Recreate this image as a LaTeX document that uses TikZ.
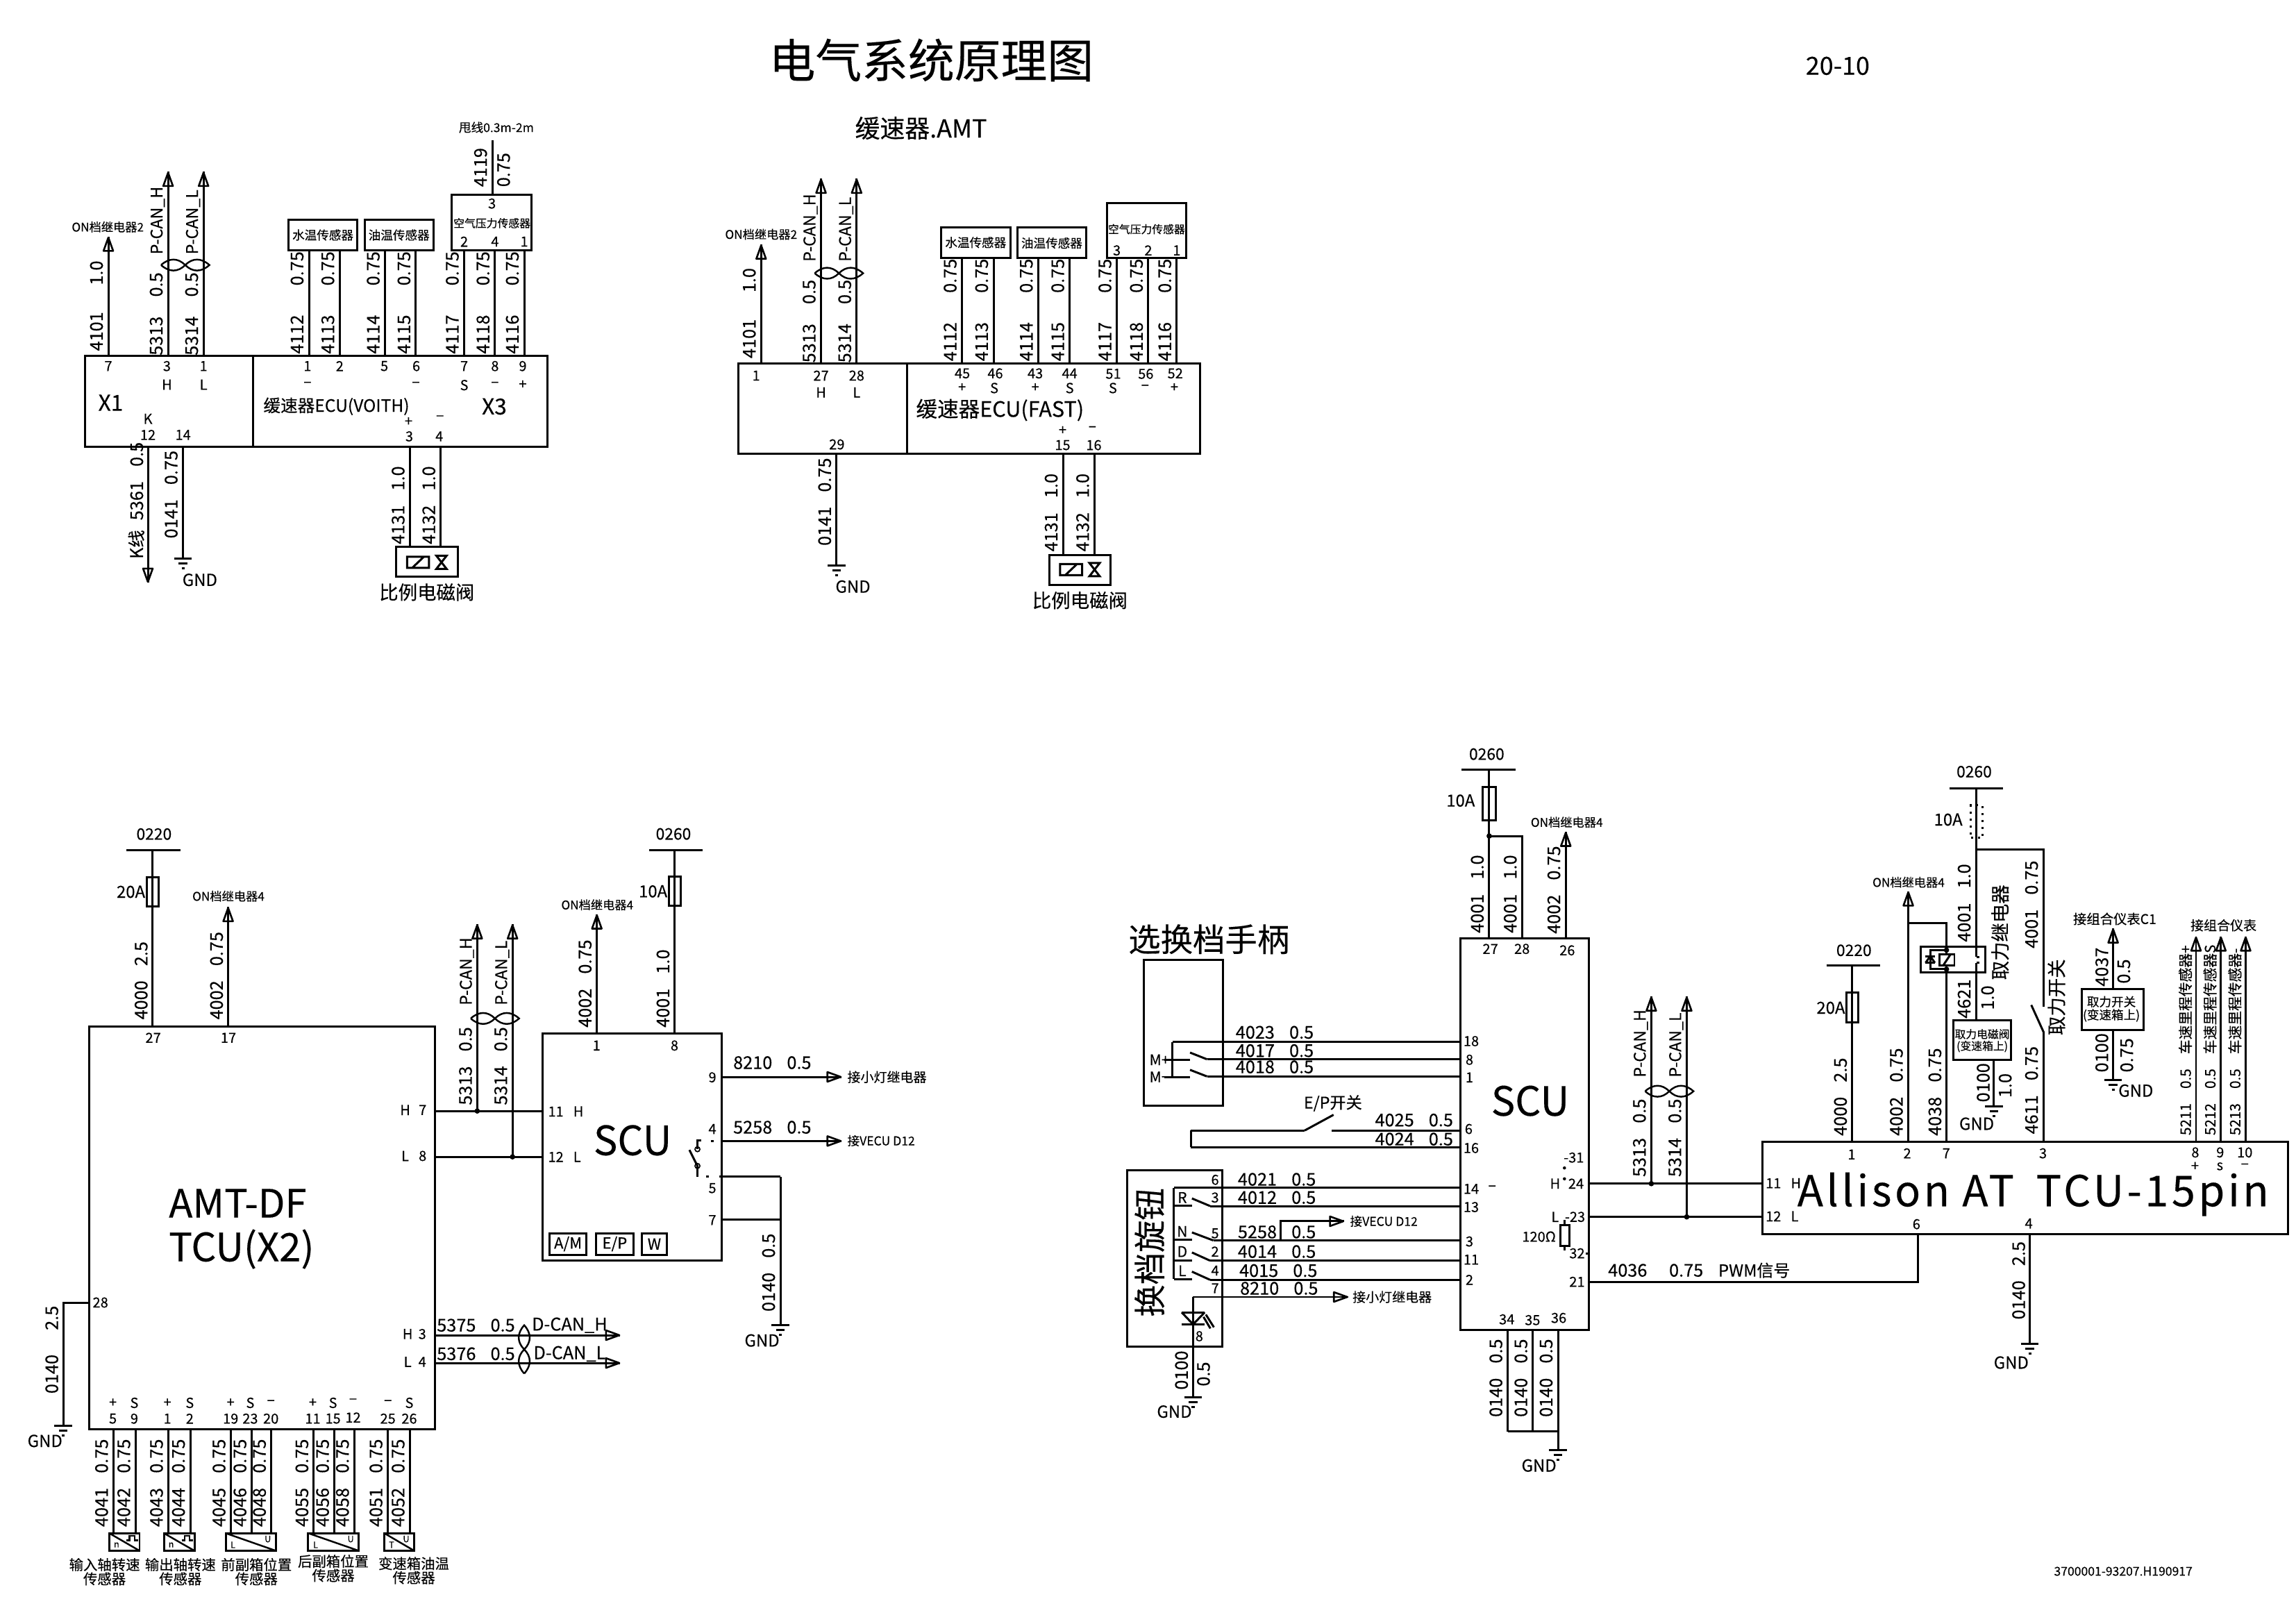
\documentclass[tikz,border=0pt]{standalone}
\usepackage{fontspec}
\usetikzlibrary{arrows.meta, positioning, calc, fit}
\setmainfont{Noto Sans CJK SC}[FakeBold=0.25]
\newfontfamily\allisonfont{Noto Sans CJK SC}[LetterSpace=7.5, FakeBold=0.25]
\newcommand{\gp}{\hspace{12pt}}
\newcommand{\gq}{\hspace{6pt}}
\newcommand{\wire}[4][wire]{\coordinate (#2a) at (#3); \coordinate (#2b) at (#4); \draw[#1] (#2a) -- (#2b);}
\newcommand{\textrow}[3]{\foreach \t/\x/\y [count=\i] in {#3} {\node[#1] (#2\i) at (\x,\y) {\t};}}

\begin{document}
\begin{tikzpicture}[
    x=0.02109cm, y=-0.02109cm,
    wire/.style={line width=0.85pt},
    arrowwire/.style={line width=0.85pt, postaction={draw, line width=0.75pt, -{Triangle[open, round, length=7pt, width=4.8pt]}}},
    box/.style={draw, rectangle, inner sep=0pt, outer sep=0pt, line width=0.85pt},
    txt/.style={font=\fontsize{#1}{#1}\selectfont, inner sep=0pt},
    pinlbl/.style={txt=5.7},
    hl/.style={txt=7.2},
    wl/.style={txt=7.2, rotate=90, anchor=south west, text depth=0pt},
    wls/.style={txt=6.6, rotate=90, anchor=south west, text depth=0pt},
    wlt/.style={txt=5.9, rotate=90, anchor=south west, text depth=0pt},
    dot/.style={circle, fill=black, inner sep=0pt, minimum size=2.2pt},
    gnd/.pic={\draw[wire] (-6,0) -- (6,0) (-3,3.3) -- (3,3.3) (-1,6.6) -- (1,6.6);},
    twist/.pic={\draw[line width=0.7pt] (-16.5,0) .. controls (-11,-5) and (-5,-5) .. (0,0) .. controls (5,5) and (11,5) .. (16.5,0) .. controls (11,-5) and (5,-5) .. (0,0) .. controls (-5,5) and (-11,5) .. (-16.5,0);},
    valve/.pic={\draw[wire] (-13.5,-3.8) rectangle (1.5,3.8) (-10,3.8) -- (-2,-3.8) (6.5,-4.5) -- (13.5,-4.5) -- (6.5,4.5) -- (13.5,4.5) -- cycle;},
    wave/.pic={\draw[line width=0.7pt] (-4,1.6) -- (-2,1.6) -- (-2,-1.6) -- (1.5,-1.6) -- (1.5,1.6) -- (4,1.6);}
]
\useasboundingbox (0,0) rectangle (1568,1109);

% Titles
\node[txt=19] (title) at (636,41) {电气系统原理图};
\node[txt=10.2] (sheet) at (1255,45) {20-10};
\node[txt=10.2] (amttitle) at (629,87.5) {缓速器.AMT};
\node[txt=5] (drawno) at (1450,1073) {3700001-93207.H190917};

% Retarder ECU (VOITH)
\node[box, fit={(58,243)(173,305)}] (xone) {};
\node[box, fit={(173,243)(374,305)}] (voith) {};
\node[txt=9, anchor=center] (xonetxt) at (75.6,275) {X1};
\node[txt=7, anchor=west] (voithtxt) at (179.6,277.5) {缓速器ECU(VOITH)};
\node[txt=9] (xthree) at (337.6,277.6) {X3};
\wire[arrowwire]{va}{74,243}{74,161.6}
\wire[arrowwire]{vb}{114.8,243}{114.8,117.3}
\wire[arrowwire]{vc}{139,243}{139,117.3}
\pic at (126.5,181) {twist};
\node[txt=4.9] (von) at (73.6,155) {ON档继电器2};
\foreach \n/\x/\t in {4112/211/171, 4113/232/171, 4114/263/171, 4115/284/171, 4117/317/171, 4118/338/171, 4116/358/171} {
    \wire{v\n}{\x,243}{\x,\t}
    \node[wl] (vl\n) at (\x-3.5,242) {\n\gp 0.75};
}
\wire{vtop}{336.3,133}{336.3,96}
\node[box, fit={(197,150)(244,171)}] (vwater) {};
\node[box, fit={(249,150)(296,171)}] (voil) {};
\node[box, fit={(308.5,133)(363,171)}] (vair) {};
\node[txt=5] (vwatertxt) at (220.5,160.5) {水温传感器};
\node[txt=5] (voiltxt) at (272.5,160.5) {油温传感器};
\node[txt=4.5] (vairtxt) at (336,152.4) {空气压力传感器};
\node[txt=5] (vswing) at (339,87) {甩线0.3m-2m};
\textrow{pinlbl}{vq}{3/336/139, 2/317/165, 4/338/165, 1/358/165}
\textrow{wl}{vw}{{4101\hspace{11pt}1.0}/70.5/240, {5313\hspace{8pt}0.5}/111.3/243, {5314\hspace{8pt}0.5}/135.5/243, 4119/332.8/128, 0.75/348.5/128, {K线\hspace{4pt}5361\hspace{6pt}0.5}/98/382, {0141\gq 0.75}/121.5/368, {4131\gq 1.0}/276.5/372, {4132\gq 1.0}/297.5/372}
\textrow{wls}{vc}{P-CAN\_H/111.3/174, P-CAN\_L/135.5/174}
\textrow{pinlbl}{vp}{7/74/250, 3/114/250, 1/139/250, H/114/262.7, L/139/262.7, 1/210/250, 2/232/250, 5/262.5/250, 6/284.3/250, 7/317/250, 8/338/250, 9/357/250, −/210/262.7, −/284/262.7, S/317/263, −/338/262.7, +/357/262.7, K/101/286, 12/101/297, 14/125/297, +/279/288, −/300.5/285.6, 3/279.5/298, 4/300/298}
\wire[arrowwire]{vk}{101,305}{101,398}
\wire{vg}{125,305}{125,381.4}
\pic at (vgb) {gnd};
\node[txt=6.8] (vgnd) at (136.5,396) {GND};
\wire{vs}{280,305}{280,373.6}
\wire{vt}{301,305}{301,373.6}
\node[box, fit={(270.3,373.6)(312.6,394)}] (vvalve) {};
\pic at (291.5,384) {valve};
\node[txt=7.8] (vvalvetxt) at (291.5,404.4) {比例电磁阀};

% Retarder ECU (FAST)
\node[box, fit={(504.4,248)(619.5,310)}] (fleft) {};
\node[box, fit={(619.5,248)(819.5,310)}] (fast) {};
\node[txt=8.7, anchor=west] (fasttxt) at (625.3,280) {缓速器ECU(FAST)};
\wire[arrowwire]{fa}{519.8,248}{519.8,167}
\wire[arrowwire]{fb}{560.7,248}{560.7,122}
\wire[arrowwire]{fc}{585,248}{585,122}
\pic at (572.9,186.6) {twist};
\node[txt=4.9] (fon) at (519.8,160) {ON档继电器2};
\foreach \n/\x in {4112/657, 4113/678.5, 4114/709, 4115/730.5, 4117/762.7, 4118/784.2, 4116/803.6} {
    \wire{f\n}{\x,248}{\x,176.3}
    \node[wl] (fl\n) at (\x-3.5,247) {\n\gp 0.75};
}
\node[box, fit={(642.7,155.4)(689.9,176.3)}] (fwater) {};
\node[box, fit={(694.7,155.4)(742,176.3)}] (foil) {};
\node[box, fit={(755.9,138.9)(810.3,176.3)}] (fair) {};
\node[txt=5] (fwatertxt) at (666.3,165.6) {水温传感器};
\node[txt=5] (foiltxt) at (718.3,166) {油温传感器};
\node[txt=4.5] (fairtxt) at (783,156.5) {空气压力传感器};
\textrow{pinlbl}{fq}{3/762.7/171, 2/784.2/171, 1/803.6/171}
\textrow{wl}{fw}{{4101\hspace{11pt}1.0}/516.3/245, {5313\hspace{8pt}0.5}/557.2/248, {5314\hspace{8pt}0.5}/581.5/248, {0141\gq 0.75}/567.8/373, {4131\gq 1.0}/722.5/377, {4132\gq 1.0}/744/377}
\textrow{wls}{fc}{P-CAN\_H/557.2/179, P-CAN\_L/581.5/179}
\textrow{pinlbl}{fp}{1/516.4/256.5, 27/560.7/256.5, 28/585/256.5, H/560.7/268, L/585/268, 45/657.2/255, 46/679.7/255, 43/707/255, 44/730.5/255, 51/760.3/255.3, 56/782.5/255.3, 52/802.6/255, +/657/264.7, S/679/265, +/707/264.7, S/730.5/265, S/760/265, −/782/264.7, +/802/264.7, +/725.7/294, −/746/293, 15/725.7/304, 16/747/304, 29/571.5/303.5}
\wire{fg}{571.3,310}{571.3,386}
\pic at (fgb) {gnd};
\node[txt=6.8] (fgnd) at (582.5,400.6) {GND};
\wire{fs}{726,310}{726,378.9}
\wire{ft}{747.5,310}{747.5,378.9}
\node[box, fit={(716.5,379)(758.6,399.6)}] (fvalve) {};
\pic at (737.5,389) {valve};
\node[txt=7.8] (fvalvetxt) at (737.5,410) {比例电磁阀};

% AMT-DF TCU
\node[box, fit={(61,701)(297,976)}] (tcu) {};
\node[txt=16, anchor=west] (tcuone) at (115,821.7) {AMT-DF};
\node[txt=16, anchor=west] (tcutwo) at (115,853) {TCU(X2)};
\wire{tbus}{86.2,580.4}{123.2,580.4}
\wire{tfeed}{104.2,701}{104.2,580.4}
\node[box, fit={(100.4,599)(108.4,619)}] (tfuse) {};
\node[txt=6.5] (tbustxt) at (105.2,569.6) {0220};
\node[txt=6.8] (tfusetxt) at (89.4,609) {20A};
\wire[arrowwire]{ton}{155.8,701}{155.8,619.4}
\node[txt=4.9] (tontxt) at (156,612) {ON档继电器4};
\coordinate (tgnda) at (61,889.6);
\coordinate (tgndb) at (43.2,973.7);
\draw[wire] (tgnda) -| (tgndb);
\pic at (tgndb) {gnd};
\node[txt=6.8] (tgnd) at (30.7,984) {GND};
\textrow{wl}{tw}{{4000\gq 2.5}/101/696.6, {4002\gq 0.75}/152.5/696.6, {0140\hspace{10pt}2.5}/40/952}
\textrow{pinlbl}{tp}{27/104.6/708.7, 17/156/708.7, 28/68.6/889.5, H/276.7/758, 7/288.6/758, L/276.7/789.4, 8/288.6/789.4, H/278.4/911, 3/288.4/911, L/278.4/930, 4/288.4/930}
\textrow{pinlbl}{ts}{+/77.1/958, S/91.7/958, +/114.3/958, S/129.6/958, +/157.5/958, S/170.9/958, −/185/958, +/213.6/958, S/227.4/958, −/241.1/957, −/264.9/958, S/279.5/958}
\textrow{pinlbl}{tn}{5/77.1/968.8, 9/91.7/968.8, 1/114.3/968.8, 2/129.6/968.8, 19/157.5/968.8, 23/170.9/968.8, 20/185/968.8, 11/213.6/968.8, 15/227.4/968.8, 12/241.1/968, 25/264.9/968.8, 26/279.5/968.8}
\foreach \n/\x in {4041/77.5, 4042/92.7, 4043/115, 4044/130, 4045/157.7, 4046/172, 4048/185.3, 4055/214.3, 4056/228.4, 4058/242, 4051/264.9, 4052/280} {
    \wire{t\n}{\x,976}{\x,1047}
    \node[wl] (tl\n) at (\x-3.5,1043) {\n\gq 0.75};
}
\foreach \n/\l/\r/\a/\b in {1/74.6/95.3/n/, 2/111.9/132.8/n/, 3/154.1/188.4/L/U, 4/210.5/245/L/U, 5/262.4/282.9/T/U} {
    \node[box, fit={(\l,1047)(\r,1059)}] (sens\n) {};
    \draw[line width=0.7pt] (sens\n.north west) -- (sens\n.south east);
    \node[txt=3.6] (sensa\n) at (\l+5,1055) {\a};
    \node[txt=3.6] (sensb\n) at (\r-5.5,1051) {\b};
}
\pic at (90.4,1050.3) {wave};
\pic at (128,1050.3) {wave};
\foreach \n/\x/\y/\s in {1/71.4/1073.3/输入轴转速, 2/123.2/1073.3/输出轴转速, 3/175.1/1073.3/前副箱位置, 4/227.6/1071/后副箱位置, 5/282.6/1072.5/变速箱油温} {
    \node[txt=5.8, align=center] (senstxt\n) at (\x,\y) {\s\\传感器};
}

% SCU of the AMT
\node[box, fit={(370.4,705.7)(493,861)}] (scua) {};
\node[txt=16.5] (scuatxt) at (432,778.7) {SCU};
\wire{abus}{443.4,580.4}{479.7,580.4}
\wire{afeed}{460.8,705.7}{460.8,580.4}
\node[box, fit={(457,598.5)(465,618.6)}] (afuse) {};
\node[txt=6.5] (abustxt) at (459.9,569.5) {0260};
\node[txt=6.8] (afusetxt) at (446,608.7) {10A};
\wire[arrowwire]{aon}{407.6,705.7}{407.6,624.4}
\node[txt=4.9] (aontxt) at (407.9,617.9) {ON档继电器4};
\wire{ah}{297,758.7}{370.4,758.7}
\wire{al}{297,790}{370.4,790}
\wire[arrowwire]{acanh}{325.9,758.7}{325.9,631.2}
\wire[arrowwire]{acanl}{350,790}{350,631.2}
\node[dot] (adoth) at (325.9,758.7) {};
\node[dot] (adotl) at (350,790) {};
\pic at (338,695.5) {twist};
\textrow{wl}{aw}{{4002\gq 0.75}/404.2/702, {4001\gq 1.0}/457.4/702, {5313\gq 0.5}/322.5/755, {5314\gq 0.5}/346.6/755, {0140\gq 0.5}/529.5/896}
\textrow{wls}{ac}{P-CAN\_H/322.5/686.8, P-CAN\_L/346.6/686.8}
\textrow{pinlbl}{ap}{1/407.4/714, 8/460.6/714, 9/486.5/735.7, 4/486.5/771, 5/486.5/811.4, 7/486.5/833.2}
\node[pinlbl, anchor=west] (aph) at (374,759) {11\hspace{4pt}H};
\node[pinlbl, anchor=west] (apl) at (374,790) {12\hspace{4pt}L};
\wire[arrowwire]{alamp}{493,735.4}{574.8,735.4}
\wire[arrowwire]{avecu}{493,779.2}{574.8,779.2}
\textrow{hl}{ah}{{8210\gq 0.5}/527.4/725.7, {5258\gq 0.5}/527.4/769.8}
\node[txt=5.4, anchor=west] (alamptxt) at (578.4,735.5) {接小灯继电器};
\node[txt=5, anchor=west] (avecutxt) at (578.4,779) {接VECU D12};
\wire{aswa}{491.3,803.6}{533,803.6}
\wire{aswb}{493,832.7}{533,832.7}
\wire{aswc}{533,803.6}{533,905}
\pic at (aswcb) {gnd};
\node[txt=6.8] (agnd) at (520.4,915.4) {GND};
\wire{afixa}{485.5,779.2}{487.5,779.2}
\wire{afixb}{482.3,803.6}{484.3,803.6}
\wire{abl}{476.3,796.2}{470.8,785.3}
\wire{abm}{476.3,796.2}{476.3,803.6}
\coordinate (acona) at (476.3,784.8);
\coordinate (aconb) at (476.3,779);
\coordinate (aconc) at (478.8,779);
\draw[wire] (acona) -- (aconb) -- (aconc);
\node[draw, circle, inner sep=0pt, minimum size=2pt, line width=0.5pt] (acircb) at (476.3,796.2) {};
\node[draw, circle, inner sep=0pt, minimum size=2pt, line width=0.5pt] (acirca) at (476.3,784.8) {};
\node[box, fit={(375.2,842.1)(400.6,856.9)}] (btnam) {};
\node[box, fit={(407.1,842.1)(432.5,856.9)}] (btnep) {};
\node[box, fit={(438.4,842.1)(455.3,856.9)}] (btnw) {};
\node[txt=6.3] (btnamtxt) at (btnam) {A/M};
\node[txt=6.3] (btneptxt) at (btnep) {E/P};
\node[txt=6.3] (btnwtxt) at (btnw) {W};
\wire[arrowwire]{dh}{297,911.8}{423.6,911.8}
\wire[arrowwire]{dl}{297,930.8}{423.6,930.8}
\pic[rotate=90] at (358,921.5) {twist};
\textrow{hl}{dw}{{5375\gq 0.5}/325/905, {5376\gq 0.5}/325/924.5, D-CAN\_H/389/905, D-CAN\_L/389/924.5}

% Gear lever and rotary knob
\node[txt=13.2] (levertxt) at (825.6,641.4) {选换档手柄};
\node[box, fit={(781.1,655.4)(835.3,755)}] (lever) {};
\wire{w4023}{800.6,711.6}{997.5,711.6}
\wire{w4017}{824.3,723.4}{997.5,723.4}
\wire{w4018}{824.3,735.1}{997.5,735.1}
\wire{lbus}{800.6,711.6}{800.6,735.4}
\wire{lmp}{795,723.7}{812.7,723.7}
\wire{lmm}{795,735.4}{812.7,735.4}
\wire{lbp}{812.7,718.8}{824.3,723.4}
\wire{lbm}{812.7,730.6}{824.3,735.1}
\node[txt=6, anchor=east] (lmptxt) at (799,723.7) {M+};
\node[txt=6, anchor=east] (lmmtxt) at (799,735.4) {M−};
\node[txt=6.6] (eptxt) at (910.3,753.4) {E/P开关};
\wire{epa}{813.3,772}{891,772}
\wire{epb}{891,772}{910.7,761.3}
\wire{epc}{909.4,772}{997.5,772}
\wire{epd}{813.3,783.5}{997.5,783.5}
\wire{epe}{813.3,772}{813.3,783.5}
\node[box, fit={(769.7,799.2)(834.9,919.7)}] (knob) {};
\node[txt=13.2, rotate=90] (knobtxt) at (785,855.3) {换档旋钮};
\wire{w4021}{801.7,811.2}{997.5,811.2}
\wire{kbus}{801.7,811.2}{801.7,873.3}
\foreach \n/\ya/\yb/\l/\xb in {R/818.4/823.6/R/826.4, N/841.6/847.1/N/828.6, D/855.3/860.9/D/826.4, L/868.4/874/L/826.4} {
    \wire{kt\n}{801.7,\yb-0.3}{814,\yb-0.3}
    \wire{kb\n}{814,\ya}{\xb,\yb}
    \wire{kw\n}{\xb,\yb}{997.5,\yb}
    \node[txt=6] (kl\n) at (807.4,\ya-0.6) {\l};
}
\coordinate (kva) at (874.5,847.1);
\coordinate (kvb) at (918,834);
\draw[arrowwire] (kva) |- (kvb);
\node[txt=5, anchor=west] (kvtxt) at (921.7,834) {接VECU D12};
\wire[arrowwire]{klamp}{814.8,885.7}{920.7,885.7}
\node[txt=5.4, anchor=west] (klamptxt) at (923.4,885.7) {接小灯继电器};
\wire{kgnd}{814.8,885.7}{814.8,954.3}
\pic at (kgndb) {gnd};
\node[txt=6.8] (kgndtxt) at (802,964) {GND};
\wire{ledt}{807,896.2}{822.7,896.2}
\wire{ledb}{807,904.4}{822.7,904.4}
\wire{ledl}{807,896.2}{814.8,904.4}
\wire{ledr}{822.7,896.2}{814.8,904.4}
\wire{leda}{823.5,897.7}{829,906.4}
\wire{ledc}{821.9,899.3}{826.6,907.2}
\textrow{hl}{kh}{{4023\gq 0.5}/870.5/705, {4017\gq 0.5}/870.5/717.5, {4018\gq 0.5}/870.5/728.6, {4025\gq 0.5}/965.7/764.9, {4024\gq 0.5}/965.7/777.9, {4021\gq 0.5}/872/805.4, {4012\gq 0.5}/872/817.8, {5258\gq 0.5}/872/841.3, {4014\gq 0.5}/872/854.7, {4015\gq 0.5}/873/867.7, {8210\gq 0.5}/873.5/879.8}
\textrow{pinlbl}{kp}{6/829.8/805.7, 3/829.8/817.8, 5/829.8/842.3, 2/829.8/854.7, 4/829.8/867.7, 7/829.8/879.8, 8/819/912.5}
\textrow{wl}{kw}{0100/811.5/949.4, 0.5/826.5/947}

% SCU of the Allison gearbox
\node[box, fit={(997.5,640.8)(1085,908.2)}] (scub) {};
\node[txt=16.5] (scubtxt) at (1045,751.8) {SCU};
\wire{bbus}{998.3,525.8}{1035,525.8}
\wire{bfeed}{1017,640.8}{1017,525.8}
\node[box, fit={(1012.5,537.5)(1021.4,560)}] (bfuse) {};
\node[txt=6.5] (bbustxt) at (1015.3,515) {0260};
\node[txt=6.8] (bfusetxt) at (997.5,546.7) {10A};
\node[dot] (bdot) at (1017,570.9) {};
\coordinate (bbra) at (1017,570.9);
\coordinate (bbrb) at (1039.4,640.8);
\draw[wire] (bbra) -| (bbrb);
\wire[arrowwire]{bon}{1069.3,640.8}{1069.3,568}
\node[txt=4.9] (bontxt) at (1070,561.5) {ON档继电器4};
\textrow{wl}{bw}{{4001\gq 1.0}/1013.5/637.5, {4001\gq 1.0}/1036/637.5, {4002\gq 0.75}/1065.8/638, {5313\gq 0.5}/1124.2/804, {5314\gq 0.5}/1148.4/804, {0140\gq 0.5}/1026.2/968, {0140\gq 0.5}/1043.3/968, {0140\gq 0.5}/1060.5/968}
\textrow{wls}{bc}{P-CAN\_H/1124.2/736, P-CAN\_L/1148.4/736}
\textrow{pinlbl}{bp}{27/1017.8/648, 28/1039.4/648, 26/1070.3/649, 18/1004.7/711, 8/1003.5/723.7, 1/1003.5/735.8, 6/1003/771, 16/1004.7/784, 14/1004.7/811.9, 13/1004.7/824.3, 3/1003.5/847.8, 11/1004.7/860.2, 2/1003.5/874, −/1019/811.5, -31/1074.8/790.5, H/1062/808.3, 24/1076.3/808.3, L/1062/831, -23/1075.6/831, 32/1077/855.9, 21/1077/875.3, 34/1029/901, 35/1046.6/901.5, 36/1064.5/900}
\node[dot, minimum size=1.3pt] (bdota) at (1068.4,797.6) {};
\node[dot, minimum size=1.3pt] (bdotb) at (1068.4,805) {};
\wire{btick}{1083,855.9}{1085,855.9}
\wire{rstub}{1068.6,833}{1068.6,854}
\node[box, fill=white, fit={(1065.6,836.8)(1071.6,851)}] (rbox) {};
\node[txt=5.7] (rtxt) at (1051,844.5) {120Ω};
\wire{bh}{1085,808.3}{1203.6,808.3}
\wire{bl}{1085,831}{1203.6,831}
\wire[arrowwire]{bcanh}{1127.7,808.3}{1127.7,680.5}
\wire[arrowwire]{bcanl}{1151.9,831}{1151.9,680.5}
\node[dot] (bdoth) at (1127.7,808.3) {};
\node[dot] (bdotl) at (1151.9,831) {};
\pic at (1140,745.2) {twist};
\foreach \n/\x in {a/1029.7, b/1046.8, c/1064} {
    \wire{bg\n}{\x,908.2}{\x,977.5}
}
\draw[wire] (bgab) -- (bgcb);
\wire{bgnd}{1064,977.5}{1064,990.4}
\pic at (bgndb) {gnd};
\node[txt=6.8] (bgndtxt) at (1051,1000.8) {GND};
\coordinate (bpwma) at (1085,875.3);
\coordinate (bpwmb) at (1309.8,842.8);
\draw[wire] (bpwma) -| (bpwmb);
\node[hl] (bpwmtxt) at (1130.7,867.5) {4036\hspace{9pt}0.75};
\node[txt=6.8] (bpwmsig) at (1198,867.5) {PWM信号};

% Allison TCU
\node[box, fit={(1203.6,779.7)(1562.4,842.8)}] (allison) {};
\node[txt=17.4] (allisontxt) at (1388.4,815.5) {\allisonfont Allison AT\hspace{9pt}TCU-15pin};
\textrow{pinlbl}{cp}{1/1264.5/788.4, 2/1302.5/787.6, 7/1329.1/787.6, 3/1395.2/787.6, 8/1499.2/787, 9/1516.2/787, 10/1533/787, +/1499/796.5, s/1516/796.5, −/1533/796.5, 6/1308.8/836, 4/1385.5/835.5}
\node[pinlbl, anchor=west] (cph) at (1205.5,808) {11\hspace{4pt}H};
\node[pinlbl, anchor=west] (cpl) at (1205.5,830.6) {12\hspace{4pt}L};
\wire{cbusa}{1247.3,659.4}{1284,659.4}
\wire{cfeeda}{1265,779.7}{1265,659.4}
\node[box, fit={(1261,677.6)(1269.2,698)}] (cfusea) {};
\node[txt=6.5] (cbusatxt) at (1266.1,649) {0220};
\node[txt=6.8] (cfuseatxt) at (1250.3,688.2) {20A};
\wire[arrowwire]{con}{1303.2,779.7}{1303.2,608.7}
\node[txt=4.9] (contxt) at (1303.4,602.5) {ON档继电器4};
\coordinate (ccoila) at (1303.2,630.2);
\coordinate (ccoilb) at (1329.3,779.7);
\draw[wire] (ccoila) -| (ccoilb);
\node[box, fit={(1311.9,646.3)(1355.6,664.2)}] (crelay) {};
\node[box, fill=white, fit={(1324.5,651.5)(1334.7,659.4)}] (ccoil) {};
\coordinate (ccoild) at ($(ccoil.south west)+(2.5,0)$);
\coordinate (ccoile) at ($(ccoil.north east)+(-2.5,0)$);
\draw[wire] (ccoild) -- (ccoile);
\coordinate (cloopa) at (1329.3,648.8);
\coordinate (cloopb) at (1318.2,661.9);
\coordinate (cloopc) at (1329.3,661.9);
\draw[wire] (cloopa) -| (cloopb) -- (cloopc);
\node[dot] (cloopdota) at (cloopa) {};
\node[dot] (cloopdotb) at (cloopc) {};
\wire{cdiodea}{1315,653}{1321.4,653}
\wire{cdiodeb}{1315,657.5}{1321.4,657.5}
\wire{cdiodec}{1318.2,653}{1315,657.5}
\wire{cdioded}{1318.2,653}{1321.4,657.5}
\wire{cbusb}{1331.2,538.2}{1367.8,538.2}
\node[txt=6.5] (cbusbtxt) at (1348.2,527) {0260};
\node[txt=6.8] (cfusebtxt) at (1330.5,559.7) {10A};
\node[draw, dotted, rectangle, line width=0.85pt, inner sep=0pt, fit={(1345.9,550)(1354.1,572)}] (cfuseb) {};
\wire{cfeedb}{1349.7,538.2}{1349.7,653.5}
\wire{cfixa}{1349.7,653.5}{1352,653.5}
\wire{cfixb}{1352,657.5}{1349.7,657.5}
\wire{cfeedc}{1349.7,657.5}{1349.7,696.7}
\node[box, fit={(1334.1,696.7)(1373.2,723.9)}] (cmag) {};
\node[txt=4.5] (cmagtxta) at (1353.7,706.2) {取力电磁阀};
\node[txt=4.5] (cmagtxtb) at (1353.7,714.6) {(变速箱上)};
\wire{cmagg}{1361.7,723.9}{1361.7,755.7}
\pic at (cmaggb) {gnd};
\node[txt=6.8] (cmagnd) at (1349.9,767.4) {GND};
\coordinate (cptoa) at (1349.7,580.2);
\coordinate (cptob) at (1395.6,687.7);
\draw[wire] (cptoa) -| (cptob);
\wire{cptoc}{1387.2,686.3}{1395.6,704.8}
\wire{cptod}{1395.6,704.8}{1395.6,779.7}
\node[txt=7.8, rotate=90] (crelaytxt) at (1365.9,636.7) {取力继电器};
\node[txt=7.8, rotate=90] (cptotxt) at (1404.4,681) {取力开关};
\node[box, fit={(1421.6,675.4)(1463.8,703.5)}] (cswitch) {};
\node[txt=5] (cswitchtxta) at (1441.9,684.1) {取力开关};
\node[txt=5] (cswitchtxtb) at (1441.9,693.4) {(变速箱上)};
\wire[arrowwire]{cmeter}{1443.1,675.4}{1443.1,634}
\node[txt=5.5] (cmetertxt) at (1444.2,627.5) {接组合仪表C1};
\wire{cswg}{1443.1,703.5}{1443.1,737.5}
\pic at (cswgb) {gnd};
\node[txt=6.8] (cswgnd) at (1458.6,744.8) {GND};
\foreach \n/\x in {5211/1499.7, 5212/1516.7, 5213/1533.6} {
    \wire[arrowwire]{c\n}{\x,779.7}{\x,639.5}
}
\node[txt=5.4] (codotxt) at (1518.5,631.9) {接组合仪表};
\textrow{wl}{cw}{{4000\gq 2.5}/1261.5/776, {4002\gq 0.75}/1299.7/776, {4038\gq 0.75}/1326/776, {4001\gq 1.0}/1346/643.6, 4621/1346/695.8, 1.0/1362/690, {4001\gq 0.75}/1392/648, {4611\gq 0.75}/1392/774.8, 4037/1440/674, 0.5/1455/672, 0100/1359/753, 1.0/1374/750, 0100/1440/732.6, 0.75/1457/732.6, {0140\gq 2.5}/1383.2/901.4}
\textrow{wlt}{cs}{{5211\hspace{6pt}0.5\hspace{6pt}车速里程传感器+}/1496.5/775.6, {5212\hspace{6pt}0.5\hspace{6pt}车速里程传感器S}/1513.3/775.6, {5213\hspace{6pt}0.5\hspace{6pt}车速里程传感器-}/1530.3/775.6}
\wire{cgnd}{1386.2,842.8}{1386.2,917.7}
\pic at (cgndb) {gnd};
\node[txt=6.8] (cgndtxt) at (1373.5,930.5) {GND};

\end{tikzpicture}
\end{document}
